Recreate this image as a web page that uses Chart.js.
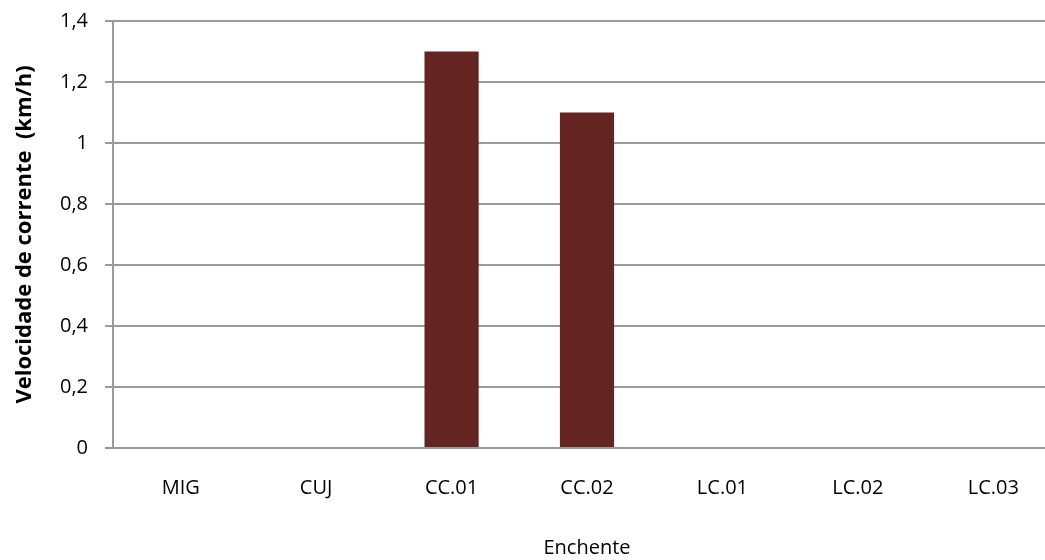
<!DOCTYPE html>
<html>
<head>
<meta charset="utf-8">
<script src="https://cdn.jsdelivr.net/npm/chart.js@4/dist/chart.umd.min.js"></script>
<style>
  html, body { margin: 0; padding: 0; background: #fff; overflow: hidden; }
  #wrap { position: relative; width: 1061px; height: 560px; }
</style>
</head>
<body>
<div id="wrap"><canvas id="c"></canvas></div>
<script>
// Stations and flood-tide current speed (km/h)
const categories = ['MIG', 'CUJ', 'CC.01', 'CC.02', 'LC.01', 'LC.02', 'LC.03'];
const velocidade = [0, 0, 1.3, 1.1, 0, 0, 0];
const yTicks = [0, 0.2, 0.4, 0.6, 0.8, 1, 1.2, 1.4];

const gridColor = '#9a9a9a';
const fontFamily = '"Open Sans", Lato, sans-serif';

new Chart(document.getElementById('c'), {
  type: 'bar',
  data: {
    labels: categories,
    datasets: [{
      data: velocidade,
      backgroundColor: '#632422',
      borderWidth: 0,
      categoryPercentage: 1,
      barPercentage: 0.4
    }]
  },
  options: {
    responsive: true,
    maintainAspectRatio: false,
    animation: false,
    layout: { padding: { top: 21, left: 0, right: 0, bottom: 0 } },
    plugins: { legend: { display: false }, tooltip: { enabled: false } },
    scales: {
      x: {
        grid: { display: false, drawTicks: false },
        border: { display: true, color: gridColor, width: 2 },
        ticks: { color: '#000', font: { family: fontFamily, size: 20 }, padding: 28, maxRotation: 0 },
        title: { display: true, text: 'Enchente', color: '#000', font: { family: fontFamily, size: 20 }, padding: { top: 0, bottom: 0 } },
        afterFit: (s) => { s.height = 112; }
      },
      y: {
        min: 0,
        max: 1.4,
        afterBuildTicks: (s) => { s.ticks = yTicks.map(v => ({ value: v })); },
        grid: { color: gridColor, lineWidth: 2, drawTicks: true, tickLength: 8 },
        border: { display: true, color: gridColor, width: 2 },
        ticks: {
          color: '#000',
          font: { family: fontFamily, size: 20 },
          padding: 17,
          callback: (v) => String(Math.round(v * 10) / 10).replace('.', ',')
        },
        title: {
          display: true,
          text: 'Velocidade de corrente  (km/h)',
          color: '#000',
          font: { family: fontFamily, size: 22, weight: 'bold' },
          padding: { top: 12, bottom: 0 }
        },
        afterFit: (s) => {
          s.width = 113;
          // only half a label height of overflow above/below the plot
          s.paddingTop = 12;
          s.paddingBottom = 12;
        }
      }
    }
  }
});
</script>
</body>
</html>
